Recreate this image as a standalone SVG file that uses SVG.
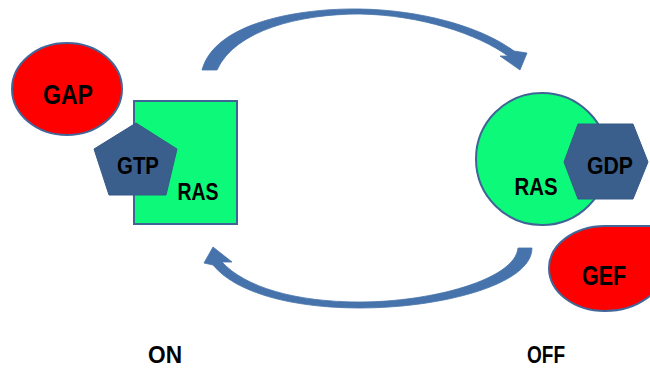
<svg xmlns="http://www.w3.org/2000/svg" width="650" height="369" viewBox="0 0 650 369">
  <style>
    .lbl { font-family: "Liberation Sans", Arial, sans-serif; font-weight: bold; fill: #000; text-anchor: middle; }
    .red { fill: #FF0000; stroke: #41679A; stroke-width: 2; }
    .green { fill: #0DF97A; stroke: #3F6496; stroke-width: 2; }
    .nuc { fill: #3A5F8D; stroke: #365A86; stroke-width: 1; }
    .arrow { fill: #4673AB; stroke: #4673AB; stroke-width: 0.8; stroke-linejoin: round; }
  </style>
  <rect width="650" height="369" fill="#FFFFFF"/>

  <g id="connectors">
    <path class="arrow" d="M 202,70 C 215,22 300,8 360,9 C 420,10 480,26 514,51 L 527,53 L 520,70 L 500,56 L 508,56 C 478,34 420,15 360,14 C 300,14 235,30 217,70 Z"/>
    <path class="arrow" d="M 518,248 L 532,248 C 532,285 440,308 360,308 C 290,308 235,292 213,265 L 204,263 L 213,247 L 232,262 L 222,262 C 245,287 295,302 360,302 C 430,302 515,280 518,248 Z"/>
  </g>

  <g id="gap">
    <ellipse class="red" cx="67" cy="89" rx="55" ry="46"/>
    <text class="lbl" x="68" y="104" font-size="28" textLength="50" lengthAdjust="spacingAndGlyphs">GAP</text>
  </g>

  <g id="ras-on">
    <rect class="green" x="134" y="101" width="103" height="123"/>
    <text class="lbl" x="198" y="200" font-size="23" textLength="41" lengthAdjust="spacingAndGlyphs">RAS</text>
  </g>

  <g id="gtp">
    <polygon class="nuc" points="136,123 177,149 166,195 109,195 94,149"/>
    <text class="lbl" x="138" y="174" font-size="23" textLength="42" lengthAdjust="spacingAndGlyphs">GTP</text>
  </g>

  <g id="ras-off">
    <circle class="green" cx="542" cy="159" r="66"/>
    <text class="lbl" x="536" y="195" font-size="23" textLength="43" lengthAdjust="spacingAndGlyphs">RAS</text>
  </g>

  <g id="gdp">
    <polygon class="nuc" points="564,162 578,124 633,124 648,162 633,199 578,199"/>
    <text class="lbl" x="610" y="174" font-size="23" textLength="46" lengthAdjust="spacingAndGlyphs">GDP</text>
  </g>

  <g id="gef">
    <path class="red" d="M 605,226 L 664,226 L 664,268 C 664,292 637,311 605,311 C 574,311 549,292 549,268 C 549,245 574,226 605,226 Z"/>
    <text class="lbl" x="604" y="285" font-size="28" textLength="44" lengthAdjust="spacingAndGlyphs">GEF</text>
  </g>

  <g id="label-on">
    <text class="lbl" x="165" y="363" font-size="24" textLength="34" lengthAdjust="spacingAndGlyphs">ON</text>
  </g>
  <g id="label-off">
    <text class="lbl" x="546" y="363" font-size="24" textLength="38" lengthAdjust="spacingAndGlyphs">OFF</text>
  </g>
</svg>
